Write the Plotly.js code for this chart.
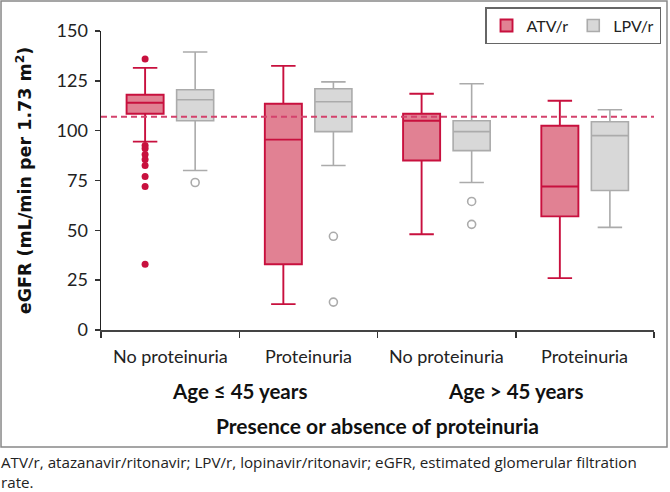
<!DOCTYPE html>
<html>
<head>
<meta charset="utf-8">
<script src="https://cdn.plot.ly/plotly-3.0.1.min.js"></script>
<style>html,body{margin:0;padding:0;background:#fff;}#chart{width:670px;height:492px;}</style>
</head>
<body>
<div id="chart"></div>
<script>
// ---- data ----
var categories = ['No proteinuria', 'Proteinuria', 'No proteinuria', 'Proteinuria'];
var groupLabels = ['Age \u2264 45 years', 'Age > 45 years'];
var groupCenters = [0.5, 2.5];
var xTitle = 'Presence or absence of proteinuria';
var yTitle = 'eGFR (mL/min per 1.73 m<sup>2</sup>)';
var captionLines = ['ATV/r, atazanavir/ritonavir; LPV/r, lopinavir/ritonavir; eGFR, estimated glomerular filtration', 'rate.'];

var atvQ1     = [108.5, 33, 85, 57];
var atvMedian = [114, 95.5, 105, 72];
var atvQ3     = [118, 113.5, 108.5, 102.5];
var atvLower  = [94.5, 13, 48, 26];
var atvUpper  = [131.5, 132.5, 118.5, 115];
var atvOutCat = [0, 0, 0, 0, 0, 0, 0, 0, 0];
var atvOutVal = [136, 92.5, 91, 88, 85.5, 82.5, 77, 72, 33];

var lpvQ1     = [105, 99.5, 90, 70];
var lpvMedian = [115.5, 114.5, 99.5, 97.5];
var lpvQ3     = [120.5, 121, 105, 104.5];
var lpvLower  = [80, 82.5, 74, 51.5];
var lpvUpper  = [139.5, 124.5, 123.5, 110.5];
var lpvOutCat = [0, 1, 1, 2, 2];
var lpvOutVal = [74, 47, 14, 64.5, 53];

var refValue = 107;
var yTicks = [0, 25, 50, 75, 100, 125, 150];
var xBoundaries = [-0.5, 0.5, 1.5, 2.5, 3.5];

// ---- styles ----
var ATV_FILL = '#E18193', ATV_LINE = '#C8103E';
var LPV_FILL = '#D8D8D8', LPV_LINE = '#ABABAB';
var OFFSET = 0.181, BOXW = 0.268;
var FONT = 'Lato, "Open Sans", sans-serif';

function shift(arr, d) { return arr.map(function (v) { return v + d; }); }
var idx = categories.map(function (c, i) { return i; });

var traces = [
  {
    type: 'box', name: 'ATV/r', x: shift(idx, -OFFSET),
    q1: atvQ1, median: atvMedian, q3: atvQ3, lowerfence: atvLower, upperfence: atvUpper,
    width: BOXW, whiskerwidth: 0.66, fillcolor: ATV_FILL,
    line: { color: ATV_LINE, width: 1.9 }, boxpoints: false, hoverinfo: 'skip'
  },
  {
    type: 'box', name: 'LPV/r', x: shift(idx, OFFSET),
    q1: lpvQ1, median: lpvMedian, q3: lpvQ3, lowerfence: lpvLower, upperfence: lpvUpper,
    width: BOXW, whiskerwidth: 0.66, fillcolor: LPV_FILL,
    line: { color: LPV_LINE, width: 1.6 }, boxpoints: false, hoverinfo: 'skip'
  },
  {
    type: 'scatter', mode: 'markers', showlegend: false, hoverinfo: 'skip',
    x: shift(atvOutCat, -OFFSET), y: atvOutVal,
    marker: { symbol: 'circle', size: 7, color: ATV_LINE }
  },
  {
    type: 'scatter', mode: 'markers', showlegend: false, hoverinfo: 'skip',
    x: shift(lpvOutCat, OFFSET), y: lpvOutVal,
    marker: { symbol: 'circle-open', size: 8, color: LPV_LINE, line: { width: 1.6, color: LPV_LINE } }
  }
];

var annotations = [];
categories.forEach(function (c, i) {
  annotations.push({ text: c, x: i, xref: 'x', y: 0, yref: 'paper', yanchor: 'middle', yshift: -26,
    showarrow: false, font: { family: FONT, size: 18, color: '#222' } });
});
groupLabels.forEach(function (g, i) {
  annotations.push({ text: '<b>' + g + '</b>', x: groupCenters[i], xref: 'x', y: 0, yref: 'paper',
    yanchor: 'middle', yshift: -61, showarrow: false, font: { family: FONT, size: 20.5, color: '#111' } });
});
annotations.push({ text: '<b>' + xTitle + '</b>', x: 1.5, xref: 'x', y: 0, yref: 'paper',
  yanchor: 'middle', yshift: -95, showarrow: false, font: { family: FONT, size: 21, color: '#111' } });
annotations.push({ text: captionLines.join('<br>'), x: -0.1826, xref: 'paper', xanchor: 'left', y: 0, yref: 'paper',
  yanchor: 'top', yshift: -121, align: 'left', showarrow: false, borderpad: 0,
  font: { family: '"Open Sans", Lato, sans-serif', size: 15.2, color: '#222' } });

var layout = {
  width: 670, height: 492,
  margin: { l: 101, r: 16, t: 31, b: 162, autoexpand: false },
  paper_bgcolor: '#fff', plot_bgcolor: '#fff',
  showlegend: true,
  legend: {
    orientation: 'h', x: 1.0127, xanchor: 'right', y: 1.08, yanchor: 'top',
    bordercolor: '#666', borderwidth: 1.5, bgcolor: '#fff', itemwidth: 30,
    font: { family: FONT, size: 16, color: '#222' }
  },
  boxmode: 'overlay',
  xaxis: {
    range: [-0.5, 3.5], tickvals: xBoundaries, showticklabels: false,
    ticks: 'outside', ticklen: 6, tickwidth: 1.5, tickcolor: '#333',
    showline: true, linecolor: '#444', linewidth: 1.5, showgrid: false, zeroline: false, fixedrange: true
  },
  yaxis: {
    range: [0, 150], tickvals: yTicks, ticks: 'outside', ticklen: 5, tickwidth: 1.5, tickcolor: '#333',
    showline: true, linecolor: '#222', linewidth: 1.5, showgrid: false, zeroline: false,
    tickfont: { family: FONT, size: 18, color: '#222' }, ticklabelstandoff: 3,
    title: { text: '<b>' + yTitle + '</b>', standoff: 20, font: { family: '"DejaVu Sans", Verdana, sans-serif', size: 17.5, color: '#111' } },
    automargin: false, fixedrange: true
  },
  shapes: [
    { type: 'line', xref: 'x', yref: 'y', x0: -0.5, x1: 3.5, y0: refValue, y1: refValue,
      line: { color: '#D4426C', width: 2, dash: '6px,4px' } },
    { type: 'rect', xref: 'paper', yref: 'paper', x0: -0.1808, x1: 1.0235, y0: -0.391, y1: 1.1,
      line: { color: '#888', width: 1.5 }, fillcolor: 'rgba(0,0,0,0)' }
  ],
  annotations: annotations
};

Plotly.newPlot('chart', traces, layout, { displayModeBar: false, staticPlot: true });
</script>
</body>
</html>
